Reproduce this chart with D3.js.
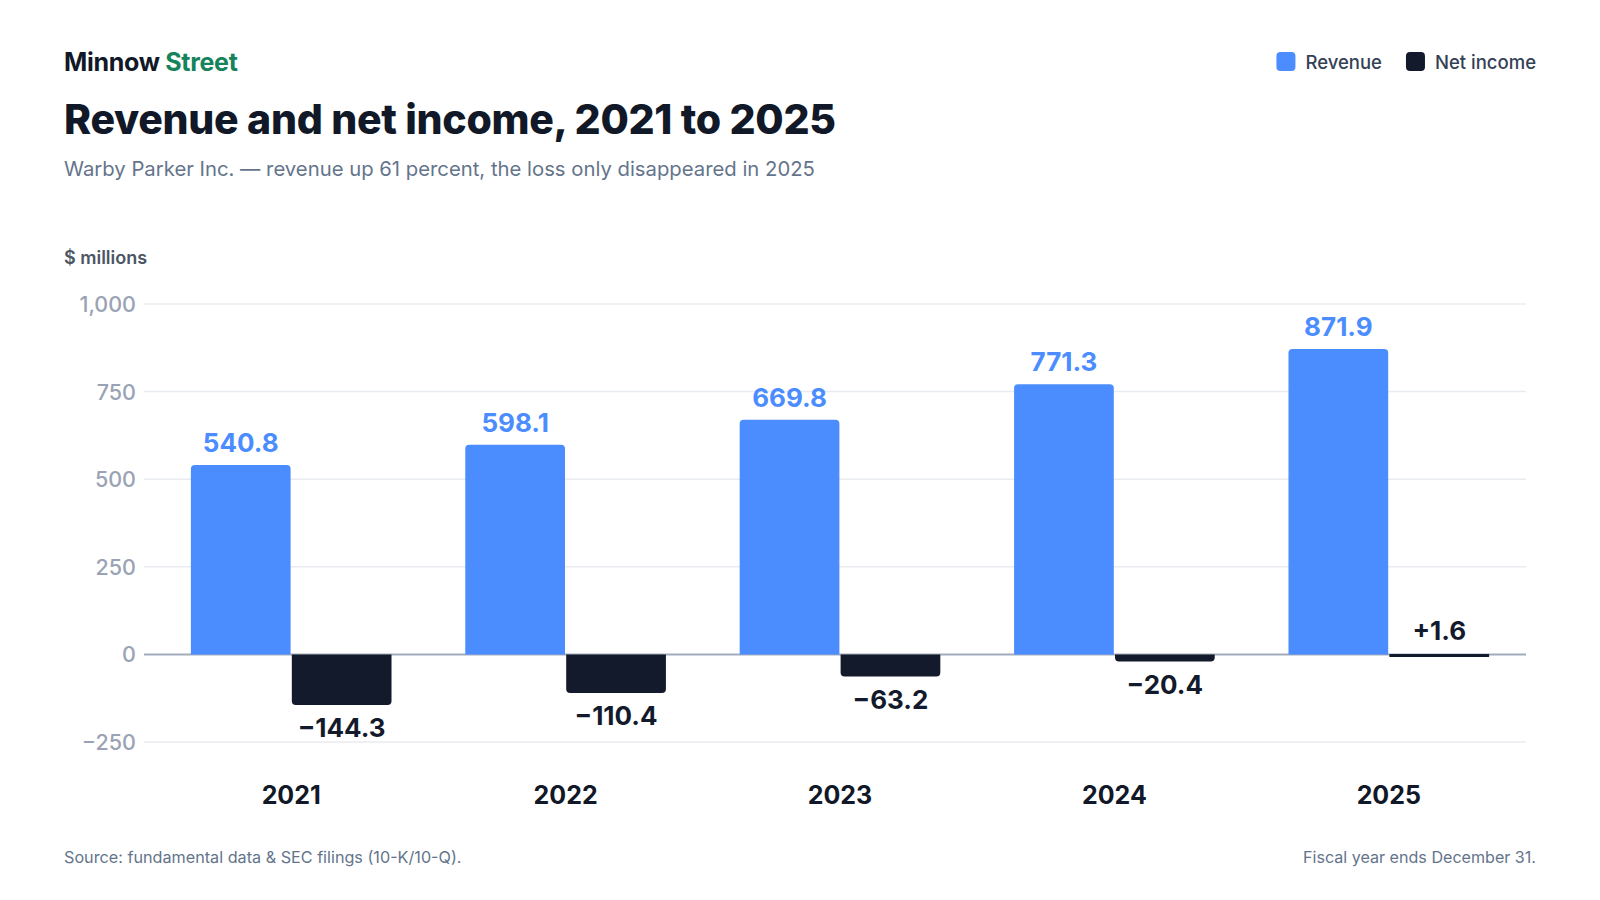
<!DOCTYPE html>
<html>
<head>
<meta charset="utf-8">
<script src="https://cdn.jsdelivr.net/npm/d3@7"></script>
<style>
  html, body { margin: 0; padding: 0; background: #fff; }
  svg text { font-family: Inter, "Noto Sans", sans-serif; }
</style>
</head>
<body>
<div id="chart"></div>
<script>
"use strict";

// chart values
const years = ["2021", "2022", "2023", "2024", "2025"];
const revenue = [540.8, 598.1, 669.8, 771.3, 871.9];
const netIncome = [-144.3, -110.4, -63.2, -20.4, 1.6];
const yTicks = [-250, 0, 250, 500, 750, 1000];
const seriesNames = ["Revenue", "Net income"];
const seriesColors = ["#4b8dff", "#131a2b"];

const width = 1600, height = 900;
const margin = { left: 64, right: 64 };

const svg = d3.select("#chart").append("svg")
    .attr("width", width)
    .attr("height", height)
    .attr("viewBox", "0 0 " + width + " " + height);

// header
const brand = svg.append("text")
    .attr("x", margin.left).attr("y", 71)
    .style("font-size", "25px").style("font-weight", 700)
    .style("letter-spacing", "-0.3px")
    .attr("fill", "#111827");
brand.append("tspan").text("Minnow ");
brand.append("tspan").attr("fill", "#15835b").text("Street");

svg.append("text")
    .attr("x", margin.left).attr("y", 134)
    .style("font-size", "41px").style("font-weight", 800)
    .style("letter-spacing", "-0.3px")
    .attr("fill", "#111827")
    .text("Revenue and net income, 2021 to 2025");

svg.append("text")
    .attr("x", margin.left).attr("y", 176)
    .style("font-size", "20.3px").style("font-weight", 400)
    .attr("fill", "#64748b")
    .text("Warby Parker Inc. \u2014 revenue up 61 percent, the loss only disappeared in 2025");

svg.append("text")
    .attr("x", margin.left).attr("y", 264)
    .style("font-size", "18px").style("font-weight", 600)
    .attr("fill", "#4b5563")
    .text("$ millions");

// legend, laid out from the right edge
const legend = svg.append("g").attr("class", "legend");
let lx = width - margin.right;
for (let k = seriesNames.length - 1; k >= 0; k--) {
    const t = legend.append("text")
        .attr("y", 62)
        .attr("dominant-baseline", "central")
        .style("font-size", "18.5px").style("font-weight", 500)
        .attr("fill", "#334155")
        .text(seriesNames[k]);
    const w = t.node().getComputedTextLength();
    t.attr("x", lx - w);
    legend.append("rect")
        .attr("x", lx - w - 29).attr("y", 52)
        .attr("width", 19).attr("height", 19).attr("rx", 4)
        .attr("fill", seriesColors[k]);
    lx = lx - w - 29 - 24;
}

// scales
const y = d3.scaleLinear().domain([-250, 1000]).range([742, 304]);
const x0 = d3.scaleBand().domain(years).range([154, 1526])
    .paddingInner(0.26).paddingOuter(0.13);
const x1 = d3.scaleBand().domain(seriesNames).range([0, x0.bandwidth()]).padding(0.012);

// grid + tick labels
const fmt = d3.format(",");
const yAxis = svg.append("g").attr("class", "y-axis");
yAxis.selectAll("line.grid")
    .data(yTicks.filter(function(d) { return d !== 0; }))
    .enter().append("line")
    .attr("class", "grid")
    .attr("x1", 144).attr("x2", 1526)
    .attr("y1", function(d) { return y(d); })
    .attr("y2", function(d) { return y(d); })
    .attr("stroke", "#e8ebf0").attr("stroke-width", 1.5);
yAxis.selectAll("text")
    .data(yTicks)
    .enter().append("text")
    .attr("x", 136)
    .attr("y", function(d) { return y(d); })
    .attr("text-anchor", "end")
    .attr("dominant-baseline", "central")
    .style("font-size", "21.5px").style("font-weight", 500)
    .attr("fill", "#9aa3b5")
    .text(function(d) { return fmt(d).replace("-", "\u2212"); });

svg.append("line")
    .attr("x1", 144).attr("x2", 1526)
    .attr("y1", y(0)).attr("y2", y(0))
    .attr("stroke", "#a3abbb").attr("stroke-width", 2);

// bar path with the corners away from zero rounded
function barPath(x, w, v) {
    const r = 4;
    const z = y(0);
    let t = y(v);
    if (Math.abs(z - t) < 3) {
        return "M" + x + "," + (z - 0.5) + "h" + w + "v3h" + (-w) + "Z";
    }
    if (v >= 0) {
        return "M" + x + "," + z + "V" + (t + r) + "Q" + x + "," + t + " " + (x + r) + "," + t +
            "H" + (x + w - r) + "Q" + (x + w) + "," + t + " " + (x + w) + "," + (t + r) +
            "V" + z + "Z";
    }
    return "M" + x + "," + z + "V" + (t - r) + "Q" + x + "," + t + " " + (x + r) + "," + t +
        "H" + (x + w - r) + "Q" + (x + w) + "," + t + " " + (x + w) + "," + (t - r) +
        "V" + z + "Z";
}

const rows = years.map(function(yr, i) {
    return { year: yr, values: [revenue[i], netIncome[i]] };
});

const groups = svg.append("g").attr("class", "bars")
    .selectAll("g.year")
    .data(rows)
    .enter().append("g")
    .attr("class", "year")
    .attr("transform", function(d) { return "translate(" + x0(d.year) + ",0)"; });

groups.selectAll("path")
    .data(function(d) {
        return d.values.map(function(v, k) { return { key: seriesNames[k], k: k, v: v }; });
    })
    .enter().append("path")
    .attr("d", function(d) { return barPath(x1(d.key), x1.bandwidth(), d.v); })
    .attr("fill", function(d) { return seriesColors[d.k]; });

groups.selectAll("text.value")
    .data(function(d) {
        return d.values.map(function(v, k) { return { key: seriesNames[k], k: k, v: v }; });
    })
    .enter().append("text")
    .attr("class", "value")
    .attr("x", function(d) { return x1(d.key) + x1.bandwidth() / 2; })
    .attr("y", function(d) {
        if (d.v >= 0) return Math.min(y(d.v), y(0) - 1.5) - 13;
        return y(d.v) + 32;
    })
    .attr("text-anchor", "middle")
    .style("font-size", "26px").style("font-weight", 700)
    .attr("fill", function(d) { return d.k === 0 ? seriesColors[0] : seriesColors[1]; })
    .text(function(d) {
        if (d.k === 1 && d.v > 0) return "+" + d.v.toFixed(1);
        return d.v.toFixed(1).replace("-", "\u2212");
    });

// year labels
svg.append("g").attr("class", "x-axis")
    .selectAll("text")
    .data(years)
    .enter().append("text")
    .attr("x", function(d) { return x0(d) + x0.bandwidth() / 2; })
    .attr("y", 804)
    .attr("text-anchor", "middle")
    .style("font-size", "25px").style("font-weight", 700)
    .attr("fill", "#111827")
    .text(function(d) { return d; });

// footer
svg.append("text")
    .attr("x", margin.left).attr("y", 863)
    .style("font-size", "16.2px").style("font-weight", 400)
    .attr("fill", "#64748b")
    .text("Source: fundamental data & SEC filings (10-K/10-Q).");

svg.append("text")
    .attr("x", width - margin.right).attr("y", 863)
    .attr("text-anchor", "end")
    .style("font-size", "16.1px").style("font-weight", 400)
    .attr("fill", "#64748b")
    .text("Fiscal year ends December 31.");
</script>
</body>
</html>
